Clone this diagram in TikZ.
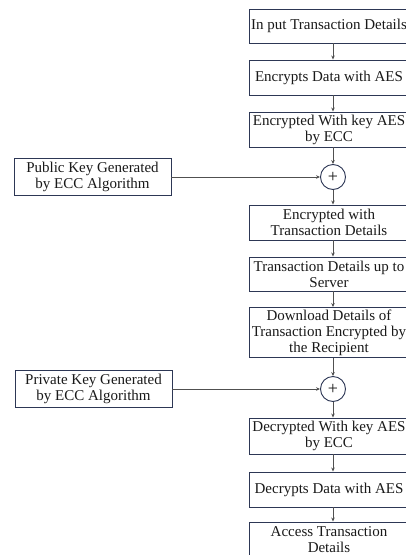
\documentclass[tikz,border=0pt]{standalone}
\usepackage{fontspec}
\setmainfont{Liberation Serif}
\usetikzlibrary{arrows.meta}
\definecolor{boxline}{RGB}{45,55,85}
\definecolor{arrowline}{RGB}{80,80,80}
\definecolor{txt}{RGB}{25,25,25}
\tikzset{
  mainbox/.style={draw=boxline, line width=0.9pt, rectangle, inner sep=0pt,
    minimum width=160pt, align=center, text=txt, font=\fontsize{15}{16}\selectfont},
  keybox/.style={draw=boxline, line width=0.9pt, rectangle, inner sep=0pt,
    minimum width=157pt, minimum height=37pt, align=center, text=txt, font=\fontsize{15}{16}\selectfont},
  xorcirc/.style={draw=boxline, line width=0.9pt, circle, inner sep=0pt, minimum size=25pt,
    font=\fontsize{18}{18}\selectfont, text=txt},
  flow/.style={draw=arrowline, line width=0.8pt, -{Stealth[length=4pt,width=3.5pt]}}
}
\begin{document}
\begin{tikzpicture}[x=1pt,y=-1pt]
\useasboundingbox (0,0) rectangle (406,555);
\fill[white] (0,0) rectangle (406,555);
\clip (0,0) rectangle (406,555);
\node[xorcirc] (c1) at (333,177) {+};
\node[xorcirc] (c2) at (333,389) {+};
\node[mainbox, minimum height=34pt] (b1) at (329,26) {In put Transaction Details};
\node[mainbox, minimum height=35pt] (b2) at (329,77.5) {Encrypts Data with AES};
\node[mainbox, minimum height=35pt] (b3) at (329,129.5) {Encrypted With key AES\\by ECC};
\node[keybox] (pk) at (92.5,177) {Public Key Generated\\by ECC Algorithm};
\node[mainbox, minimum height=35pt] (b4) at (329,222.5) {Encrypted with\\Transaction Details};
\node[mainbox, minimum height=34pt] (b5) at (329,274) {Transaction Details up to\\Server};
\node[mainbox, minimum height=50pt] (b6) at (329,332.5) {Download Details of\\Transaction Encrypted by\\the Recipient};
\node[keybox] (sk) at (93.5,389) {Private Key Generated\\by ECC Algorithm};
\node[mainbox, minimum height=36pt] (b7) at (329,436) {Decrypted With key AES\\by ECC};
\node[mainbox, minimum height=35pt] (b8) at (329,489.5) {Decrypts Data with AES};
\node[mainbox, minimum height=35pt] (b9) at (329,539.5) {Access Transaction\\Details};
\draw[flow] (b1.south -| c1) -- (b2.north -| c1);
\draw[flow] (b2.south -| c1) -- (b3.north -| c1);
\draw[flow] (b3.south -| c1) -- (c1);
\draw[flow] (pk) -- (c1);
\draw[flow] (c1) -- (b4.north -| c1);
\draw[flow] (b4.south -| c1) -- (b5.north -| c1);
\draw[flow] (b5.south -| c1) -- (b6.north -| c1);
\draw[flow] (b6.south -| c2) -- (c2);
\draw[flow] (sk) -- (c2);
\draw[flow] (c2) -- (b7.north -| c2);
\draw[flow] (b7.south -| c2) -- (b8.north -| c2);
\draw[flow] (b8.south -| c2) -- (b9.north -| c2);
\end{tikzpicture}
\end{document}
